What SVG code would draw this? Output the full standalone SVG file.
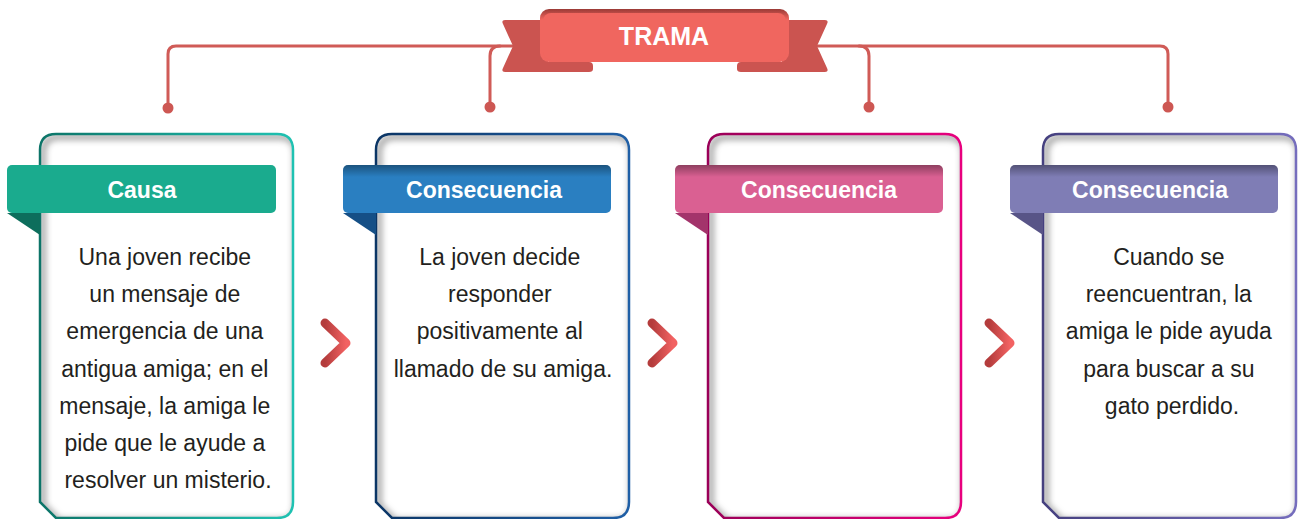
<svg xmlns="http://www.w3.org/2000/svg" width="1304" height="519" viewBox="0 0 1304 519">
<style>
.ln{fill:none;stroke:#d05b57;stroke-width:3;stroke-linecap:round}
.dot{fill:#cd5753}
.hd{font-family:"Liberation Sans",Arial,sans-serif;font-weight:bold;font-size:23px;fill:#fff;text-anchor:middle}
.bd{font-family:"Liberation Sans",Arial,sans-serif;font-size:23px;fill:#231f20;text-anchor:middle}
.tt{font-family:"Liberation Sans",Arial,sans-serif;font-weight:bold;font-size:25px;fill:#fff;text-anchor:middle}
.chev{fill:none;stroke:url(#gChev);stroke-width:9;stroke-linecap:round;stroke-linejoin:round}
.shd{fill:none;stroke:#000;stroke-opacity:.35;stroke-width:6;filter:url(#blur)}
.hshade{fill:url(#gHshade)}
</style>
<defs>
<path id="boxShape" d="M0 16Q0 0 16 0H237Q253 0 253 16V368Q253 384 237 384H16L0 368Z"/>
<clipPath id="boxClip" clipPathUnits="userSpaceOnUse"><use href="#boxShape"/></clipPath>
<filter id="blur" x="-10%" y="-10%" width="120%" height="120%"><feGaussianBlur stdDeviation="3"/></filter>
<linearGradient id="gB1" x1="0" y1="0" x2="1" y2="0"><stop offset="0" stop-color="#0c7468"/><stop offset="1" stop-color="#1fc2b2"/></linearGradient>
<linearGradient id="gB2" x1="0" y1="0" x2="1" y2="0"><stop offset="0" stop-color="#0b3565"/><stop offset="1" stop-color="#1f5fa6"/></linearGradient>
<linearGradient id="gB3" x1="0" y1="0" x2="1" y2="0"><stop offset="0" stop-color="#9a0058"/><stop offset="1" stop-color="#e8007e"/></linearGradient>
<linearGradient id="gB4" x1="0" y1="0" x2="1" y2="0"><stop offset="0" stop-color="#45407f"/><stop offset="1" stop-color="#756dbd"/></linearGradient>
<linearGradient id="gHshade" x1="0" y1="0" x2="0" y2="1"><stop offset="0" stop-color="#000" stop-opacity=".35"/><stop offset=".25" stop-color="#000" stop-opacity="0"/><stop offset="1" stop-color="#000" stop-opacity="0"/></linearGradient>
<linearGradient id="gBan" x1="0" y1="0" x2="0" y2="1"><stop offset="0" stop-color="#9a3a36"/><stop offset=".2" stop-color="#f0665f"/><stop offset="1" stop-color="#f0665f"/></linearGradient>
<linearGradient id="gChev" x1="0" y1="0" x2="1" y2="0"><stop offset="0" stop-color="#b43c3c"/><stop offset="1" stop-color="#f26262"/></linearGradient>
</defs>

<g id="connectors">
<path class="ln" d="M168 108V54Q168 46 176 46H1160Q1168 46 1168 54V108"/>
<path class="ln" d="M500 46Q490 46 490 56V107"/>
<path class="ln" d="M859 46Q869 46 869 56V107"/>
<circle class="dot" cx="168" cy="108" r="5.5"/>
<circle class="dot" cx="490" cy="107" r="5.5"/>
<circle class="dot" cx="869" cy="107" r="5.5"/>
<circle class="dot" cx="1168" cy="107" r="5.5"/>
</g>

<g id="trama">
<path fill="#cb5450" d="M505 20H548V62H589Q593 62 593 66V69Q593 72 589 72H505Q501 72 503 68L513 46L503 24Q501 20 505 20Z"/>
<path fill="#cb5450" d="M825 20H782V62H741Q737 62 737 66V69Q737 72 741 72H825Q829 72 827 68L817 46L827 24Q829 20 825 20Z"/>
<rect x="540" y="9" width="249" height="53" rx="9" fill="url(#gBan)"/>
<rect x="543" y="13" width="243" height="47" rx="8" fill="#f0665f"/>
<text class="tt" x="664" y="45">TRAMA</text>
</g>

<g id="node1" transform="translate(40,134)">
<use href="#boxShape" fill="#fff"/>
<g clip-path="url(#boxClip)"><use href="#boxShape" class="shd" transform="translate(3,3)"/></g>
<use href="#boxShape" fill="none" stroke="url(#gB1)" stroke-width="2.5"/>
<path d="M-33 79H0V101Z" fill="#0d6e5c"/>
<rect x="-33" y="31" width="269" height="48" rx="5" fill="#1aab8e"/>
<text class="hd" x="102" y="64">Causa</text>
<text class="bd" x="128">
<tspan x="128" y="131">Una joven recibe</tspan>
<tspan x="128" y="168">un mensaje de</tspan>
<tspan x="128" y="205">emergencia de una</tspan>
<tspan x="128" y="243">antigua amiga; en el</tspan>
<tspan x="128" y="280">mensaje, la amiga le</tspan>
<tspan x="128" y="317">pide que le ayude a</tspan>
<tspan x="128" y="354">resolver un misterio.</tspan>
</text>
</g>

<g id="node2" transform="translate(376,134)">
<use href="#boxShape" fill="#fff"/>
<g clip-path="url(#boxClip)"><use href="#boxShape" class="shd" transform="translate(3,3)"/></g>
<use href="#boxShape" fill="none" stroke="url(#gB2)" stroke-width="2.5"/>
<path d="M-33 79H0V101Z" fill="#154f86"/>
<rect x="-33" y="31" width="268" height="48" rx="5" fill="#2a7fc1"/>
<rect x="-33" y="31" width="268" height="48" rx="5" class="hshade"/>
<text class="hd" x="108" y="64">Consecuencia</text>
<text class="bd">
<tspan x="127" y="131">La joven decide</tspan>
<tspan x="127" y="168">responder</tspan>
<tspan x="127" y="205">positivamente al</tspan>
<tspan x="127" y="243">llamado de su amiga.</tspan>
</text>
</g>

<g id="node3" transform="translate(708,134)">
<use href="#boxShape" fill="#fff"/>
<g clip-path="url(#boxClip)"><use href="#boxShape" class="shd" transform="translate(3,3)"/></g>
<use href="#boxShape" fill="none" stroke="url(#gB3)" stroke-width="2.5"/>
<path d="M-33 79H0V101Z" fill="#a3346b"/>
<rect x="-33" y="31" width="268" height="48" rx="5" fill="#da6092"/>
<rect x="-33" y="31" width="268" height="48" rx="5" class="hshade"/>
<text class="hd" x="111" y="64">Consecuencia</text>
</g>

<g id="node4" transform="translate(1043,134)">
<use href="#boxShape" fill="#fff"/>
<g clip-path="url(#boxClip)"><use href="#boxShape" class="shd" transform="translate(3,3)"/></g>
<use href="#boxShape" fill="none" stroke="url(#gB4)" stroke-width="2.5"/>
<path d="M-33 79H0V101Z" fill="#585487"/>
<rect x="-33" y="31" width="268" height="48" rx="5" fill="#7f7db5"/>
<rect x="-33" y="31" width="268" height="48" rx="5" class="hshade"/>
<text class="hd" x="107" y="64">Consecuencia</text>
<text class="bd">
<tspan x="129" y="131">Cuando se</tspan>
<tspan x="129" y="168">reencuentran, la</tspan>
<tspan x="129" y="205">amiga le pide ayuda</tspan>
<tspan x="129" y="243">para buscar a su</tspan>
<tspan x="129" y="280">gato perdido.</tspan>
</text>
</g>

<g id="arrows">
<path class="chev" d="M325 323L346 343L325 363"/>
<path class="chev" d="M652 323L673 343L652 363"/>
<path class="chev" d="M989 323L1010 343L989 363"/>
</g>
</svg>
